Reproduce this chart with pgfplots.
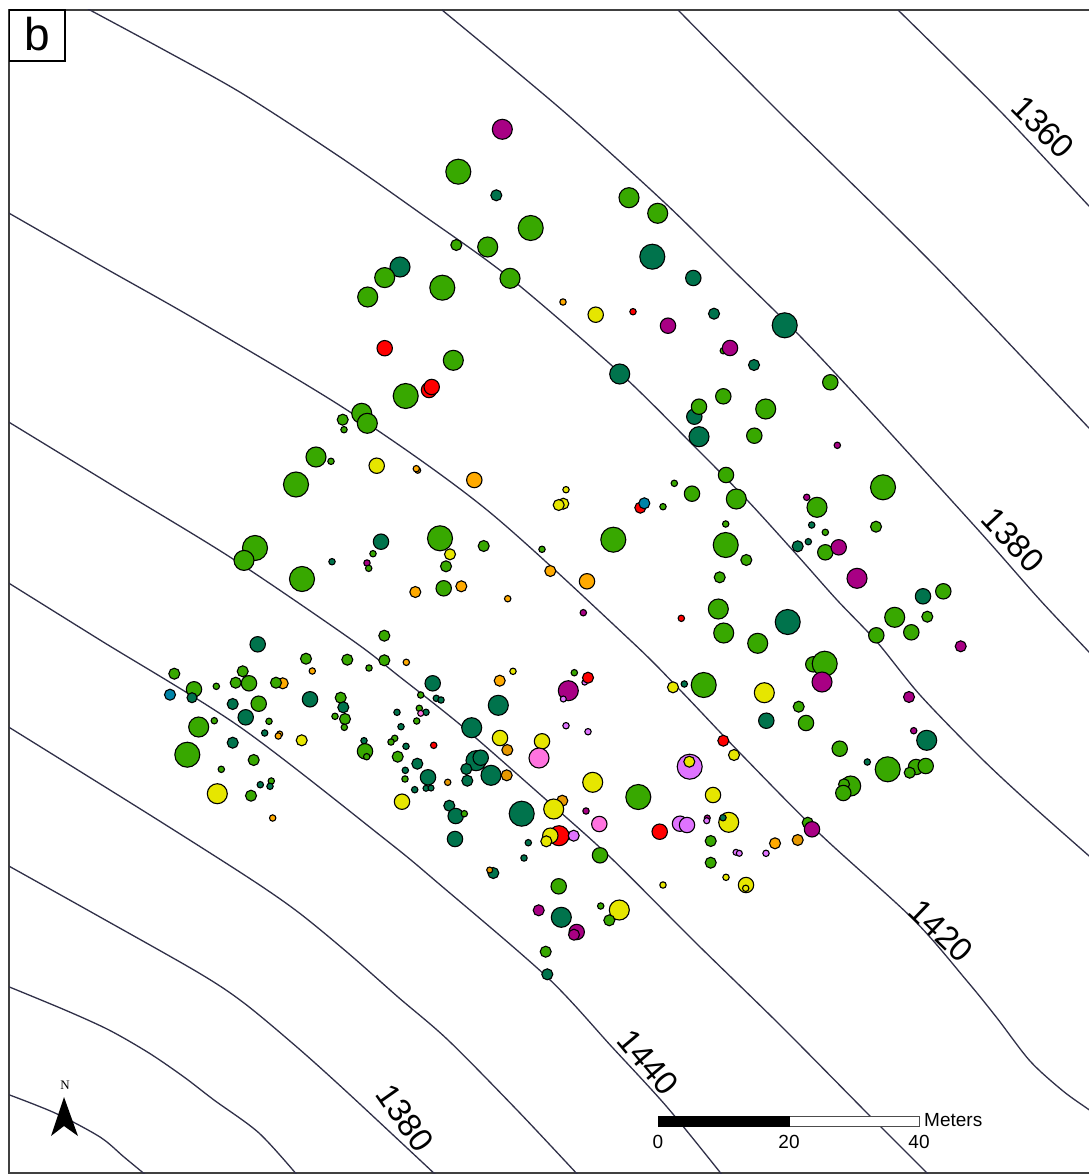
\documentclass[border=0pt]{standalone}
\usepackage{fontspec}
\setmainfont{Liberation Sans}
\newfontfamily\serifN{Liberation Serif}
\usepackage{pgfplots}
\usepackage{pgfplotstable}
\pgfplotsset{compat=1.18}

\definecolor{cg}{RGB}{56,168,0}
\definecolor{cd}{RGB}{0,115,76}
\definecolor{cy}{RGB}{230,230,0}
\definecolor{co}{RGB}{255,170,0}
\definecolor{cq}{RGB}{230,152,0}
\definecolor{cp}{RGB}{168,0,132}
\definecolor{cr}{RGB}{255,0,0}
\definecolor{cn}{RGB}{255,115,223}
\definecolor{cl}{RGB}{223,115,255}
\definecolor{cb}{RGB}{0,132,168}
\definecolor{cc}{RGB}{48,48,72}
\tikzset{dot/.style={mark=*, draw=black, fill=#1, line width=1.1pt}}

% x y in image pixels, r = radius, c = colour class
\pgfplotstableread{
x y r c
174.3 673.7 5.5 g
194 689.3 7.7 g
192 697.7 5 d
170 694.7 5.5 b
216.3 686.3 3.2 g
242.7 671.3 5.5 g
235.7 682.7 5.5 g
249 683.3 7.7 g
257.7 644.3 7.7 d
282.7 683.3 5.5 o
276 682.7 5.5 g
306 658.7 5.5 g
312.3 671 3.2 o
310 699.3 7.7 d
347.3 659.7 5.5 g
369 668 3.2 g
384.3 635.7 5.5 g
384.3 660.3 5.5 g
406.3 662.3 3.2 o
432.7 683.3 7.7 d
436.3 698.3 3.2 d
441 700 3.2 d
420.7 695 3.2 g
232.7 704 5.5 d
258.7 703.7 7.7 g
245.7 717.3 7.7 d
198.7 727 10 g
214.3 720.7 3.2 g
269 721.3 3.2 g
264.7 733 3.2 d
279.7 734 3 o
278.3 736 3.2 o
301.7 740.3 5.5 y
340.7 697.7 5.5 g
343.3 707.3 5.5 d
335 716.3 3.2 g
345 719 5.5 g
344.3 727.3 3.2 g
397 712.3 3.2 d
419.3 708.3 3.2 g
426 712.3 3.2 d
420.7 713.3 3 n
416.7 721 3.2 g
401 726.7 3.2 d
394.7 738.3 3.2 g
391 742 3.2 g
406 746.3 3.2 d
433.7 745.3 3.2 r
364 740.7 3.2 d
365 751.3 7.7 g
366.7 756.7 3.2 g
187.3 754.7 12.5 g
232.7 742.7 5.5 d
253.7 760 5.5 g
221.3 769.3 3.2 g
271.3 781 3.2 g
260.3 784.7 3.2 d
270 786.3 3.2 d
217.3 793.7 10 y
251 795.7 5.5 g
272.7 818 3.2 o
397.7 756.7 5.5 g
417.3 763.7 5.5 d
405.3 770.3 3.2 d
405 779 3.2 g
428 777.3 7.7 d
426 788.3 3 d
431 788 3 d
414.7 789.7 3.2 d
402 801.7 7.7 y
447.7 782.3 3.2 q
513 671.3 3.2 y
499.7 680.7 5.5 o
574.3 672.7 3.2 g
584.7 682.3 2.8 l
588 677.7 5.5 r
568.3 690.7 10 p
563.3 699 3 l
498.3 705.3 10 d
471.7 727.7 10 d
500 738 7.7 y
507.3 750 5.5 q
542 741.3 7.7 y
539 758 10 n
566 725.7 3.2 l
588 731.7 3.2 l
476 760.7 10 d
480.7 757.7 7.7 d
466.3 769 5.5 d
491 775.3 10 d
506.7 775.3 5.5 q
467.3 780.7 5.5 d
592.7 782.3 10 y
638.3 797 12.5 g
562.3 800.7 5.5 q
553.7 809 10 y
521.7 813.7 12.5 d
586 811 3.2 p
599.3 824 7.7 n
449.3 805.7 5.5 d
455.7 816 7.7 d
464.3 813.7 3.2 g
455 839 7.7 d
559 835.7 10 r
550.3 835.7 7.7 y
546.3 841.3 5.5 y
573.7 835.7 5.5 l
659.7 831.7 7.7 r
528.3 842.7 3.2 d
524 858 3.2 d
600 855.3 7.7 g
493.3 873 5.5 d
489.7 870 3 q
558.7 886.3 7.7 g
538.7 910.3 5.5 p
561.3 917.3 10 d
600.7 906 3.2 g
619.3 910 10 y
609.3 920.3 5.5 g
576.7 932 7.7 p
574 934.7 5.5 p
545.7 951.7 5.5 g
547.3 974.3 5.5 d
757.7 643.3 10 g
876.3 635.3 7.7 g
960.7 646.3 5.5 p
813.3 664.3 7.7 g
824.7 663.7 12.5 g
822 682 10 p
673 687.3 5.5 y
684.3 684 3.2 d
703.7 685 12.5 g
764.3 692.7 10 y
909 697 5.5 p
798.7 706.7 5.5 g
766.3 720.7 7.7 d
806 723 7.7 g
913.7 730.7 3.2 p
926.7 740.3 10 d
839.7 748.7 7.7 g
723.3 740.7 5.5 r
734 755 5.5 y
689.7 766.7 12.5 l
689.3 761.7 5.5 y
867.3 762 3.2 d
887.7 769.3 12.5 g
916 767 7.7 g
925.7 766 7.7 g
909.7 772.7 5.5 g
850.7 786 10 g
844 784.3 5.5 g
843.3 793 7.7 g
713 795 7.7 y
680 823.7 7.7 l
687 825 7.7 l
707.3 818 3 p
706.7 820.7 3 l
728.7 822.3 10 y
723 817.7 3.2 d
807.7 822.7 5.5 g
812 829.3 7.7 p
710.7 841 5.5 g
775 843.3 5.5 o
797.7 840 5.5 q
736 852.3 3 l
739.3 853.3 3 l
766 853.3 3.2 l
710.7 862.7 5.5 g
726 877.3 3.2 y
663 885 3.2 y
746 885 7.7 y
745.7 888.3 3.2 y
361.7 413.3 10 g
367.3 423.3 10 g
342.7 419.7 5.5 g
344 429.7 3.2 g
316 457 10 g
331 461.3 3.2 g
376.7 465.7 7.7 y
417.7 470.3 3 q
416.3 468.7 3.2 o
474.3 480 7.7 o
566 489.7 3.2 y
563.3 503.7 5.5 y
558.7 505 5.5 y
640.3 507.7 5.5 r
644.3 503.3 5.5 b
613.3 539.7 12.5 g
440 538.3 12.5 g
450 554.3 5.5 y
483.7 546 5.5 g
381 541.7 7.7 d
373 553.7 3.2 g
332 561.7 3.2 d
367 563 3.2 p
368.7 568.3 3.2 g
446 566.3 5.5 g
542 549.3 3.2 g
550.3 571 5.5 o
587 581.3 7.7 o
443.7 588.3 7.7 g
461.3 586.3 5.5 o
415.3 592 5.5 o
507.7 598.7 3.2 o
583.3 612.7 3.2 p
255 548 12.5 g
244 560.4 10 g
302 579 12.5 g
296 484.5 12.5 g
384.7 348.2 7.7 r
400 267 10 d
384.7 277.6 10 g
367.7 297 10 g
694.3 416.7 7.7 d
699 406.7 7.7 g
765.7 409 10 g
699 436.7 10 d
754.3 435.7 7.7 g
837.3 445.3 3.2 p
726 475 7.7 g
674.3 483.3 3.2 g
692 493.7 7.7 g
736.3 499 10 g
883 487.3 12.5 g
663 506.7 3.2 g
806.7 497.3 3.2 p
817 507.3 10 g
811.7 525 3.2 d
825.3 532.3 3.2 g
876 526.7 5.5 g
725.7 524 3.2 g
725.7 545 12.5 g
797.7 546.3 5.5 d
808.3 541.7 3.2 d
825.3 552.3 7.7 g
838.7 547.3 7.7 p
746.3 560 5.5 g
857 578.3 10 p
719.7 577.3 5.5 g
943.3 591.3 7.7 g
923 596.3 7.7 d
718.3 609 10 g
894.7 617.3 10 g
927.3 616.7 5.5 g
681.3 618.3 3.2 r
787.7 622 12.5 d
723.7 633 10 g
911.3 632.3 7.7 g
502.3 129.3 10 p
458.3 171.7 12.5 g
496.3 195.3 5.5 d
629 197.7 10 g
657.7 213.3 10 g
530.7 228 12.5 g
456.3 245 5.5 g
487.7 247 10 g
652.3 256.7 12.5 d
510 278.3 10 g
442.3 287.7 12.5 g
693.3 278 7.7 d
563 302 3.2 o
595.7 314.7 7.7 y
633 311.7 3.2 r
714 313.7 5.5 d
668 325.7 7.7 p
784.7 325.3 12.5 d
723.3 350.7 3.2 g
730 348 7.7 p
754 365 5.5 d
453.3 360.3 10 g
429 390 7.7 r
431.7 387 7.7 r
619.7 374 10 d
830.3 382.3 7.7 g
723.3 396.3 7.7 g
405.7 396 12.5 g
}\points

\begin{document}
\begin{tikzpicture}[x=1pt,y=1pt]
\useasboundingbox (0,0) rectangle (1088,1174);
\begin{axis}[
    at={(9pt,1pt)}, anchor=south west,
    scale only axis,
    width=1081pt, height=1163pt,
    xmin=9, xmax=1090,
    ymin=10, ymax=1173,
    y dir=reverse,
    ticks=none,
    axis line style={black!75, line width=1.4pt},
    clip=true,
    isoline/.style={color=cc, line width=1.3pt, no markers, smooth, tension=0.5},
  ]

  % contour lines
  \addplot[isoline] coordinates {(898,10)(1000,111)(1088,205)(1092,209)};
  \addplot[isoline] coordinates {(678,10)(780,113)(933,264)(1088,427)(1092,431)};
  \addplot[isoline] coordinates {(442,10)(562,110)(665,203)(733,270)(797,333)(860,400)(980,532)(1040,600)(1088,651)(1092,656)};
  \addplot[isoline] coordinates {(88,9)(166,51)(243,94)(340,157)(420,213)(510,278)(620,373)(695,447)(747,500)(797,555)(837,600)(877,642)(920,695)(980,757)(1027,801)(1088,855)(1092,858)};
  \addplot[isoline] coordinates {(7,212)(103,267)(200,322)(350,412)(487,510)(630,640)(680,690)(740,753)(820,834)(913,919)(967,981)(997,1018)(1030,1061)(1063,1091)(1088,1109)(1092,1112)};
  \addplot[isoline] coordinates {(7,421)(120,490)(233,559)(352,640)(400,677)(463,727)(543,797)(610,857)(696,943)(780,1025)(870,1116)(929,1175)};
  \addplot[isoline] coordinates {(7,582)(100,640)(240,727)(386,840)(438,883)(547,977)(612,1047)(667,1107)(723,1176)};
  \addplot[isoline] coordinates {(7,726)(150,815)(249,878)(298,912)(348,953)(398,997)(448,1040)(517,1110)(579,1176)};
  \addplot[isoline] coordinates {(7,865)(100,917)(199,973)(244,1003)(298,1048)(348,1093)(437,1176)};
  \addplot[isoline] coordinates {(7,986)(65,1010)(109,1030)(149,1053)(184,1077)(214,1100)(259,1133)(298,1176)};
  \addplot[isoline] coordinates {(7,1094)(55,1113)(100,1137)(124,1157)(147,1176)};

  % sample points
  \addplot[
    scatter, only marks,
    scatter src=explicit symbolic,
    scatter/classes={
      g={dot=cg},
      d={dot=cd},
      y={dot=cy},
      o={dot=co},
      q={dot=cq},
      p={dot=cp},
      r={dot=cr},
      n={dot=cn},
      l={dot=cl},
      b={dot=cb}
    },
    visualization depends on={\thisrow{r} \as \perpointr},
    scatter/@pre marker code/.append style={/tikz/mark size=\perpointr},
  ] table[x=x, y=y, meta=c] {\points};

  % contour labels
  \node[rotate=-45] at (axis cs:1043,127) {\fontsize{33}{33}\selectfont 1360};
  \node[rotate=-47] at (axis cs:1013,540) {\fontsize{33}{33}\selectfont 1380};
  \node[rotate=-44] at (axis cs:941,931) {\fontsize{33}{33}\selectfont 1420};
  \node[rotate=-50] at (axis cs:648,1062) {\fontsize{33}{33}\selectfont 1440};
  \node[rotate=-55] at (axis cs:405,1118) {\fontsize{33}{33}\selectfont 1380};

  % panel letter
  \draw[black, line width=1.3pt, fill=white] (axis cs:9,10) rectangle (axis cs:65,61);
  \node at (axis cs:37,34) {\fontsize{46}{46}\selectfont b};

  % north arrow
  \fill[black] (axis cs:64,1097) -- (axis cs:78,1136) -- (axis cs:64,1126) -- (axis cs:51,1136) -- cycle;
  \node at (axis cs:65,1085) {\fontsize{13}{13}\serifN\selectfont N};

  % scale bar
  \draw[black!70, fill=white, line width=1pt] (axis cs:658,1116) rectangle (axis cs:919,1126);
  \fill[black] (axis cs:658,1115.5) rectangle (axis cs:790,1126.5);
  \node[anchor=west, inner sep=0pt] at (axis cs:924,1120) {\fontsize{19}{19}\selectfont Meters};
  \node at (axis cs:658,1142) {\fontsize{19}{19}\selectfont 0};
  \node at (axis cs:789,1142) {\fontsize{19}{19}\selectfont 20};
  \node at (axis cs:919,1142) {\fontsize{19}{19}\selectfont 40};
\end{axis}
\end{tikzpicture}
\end{document}
